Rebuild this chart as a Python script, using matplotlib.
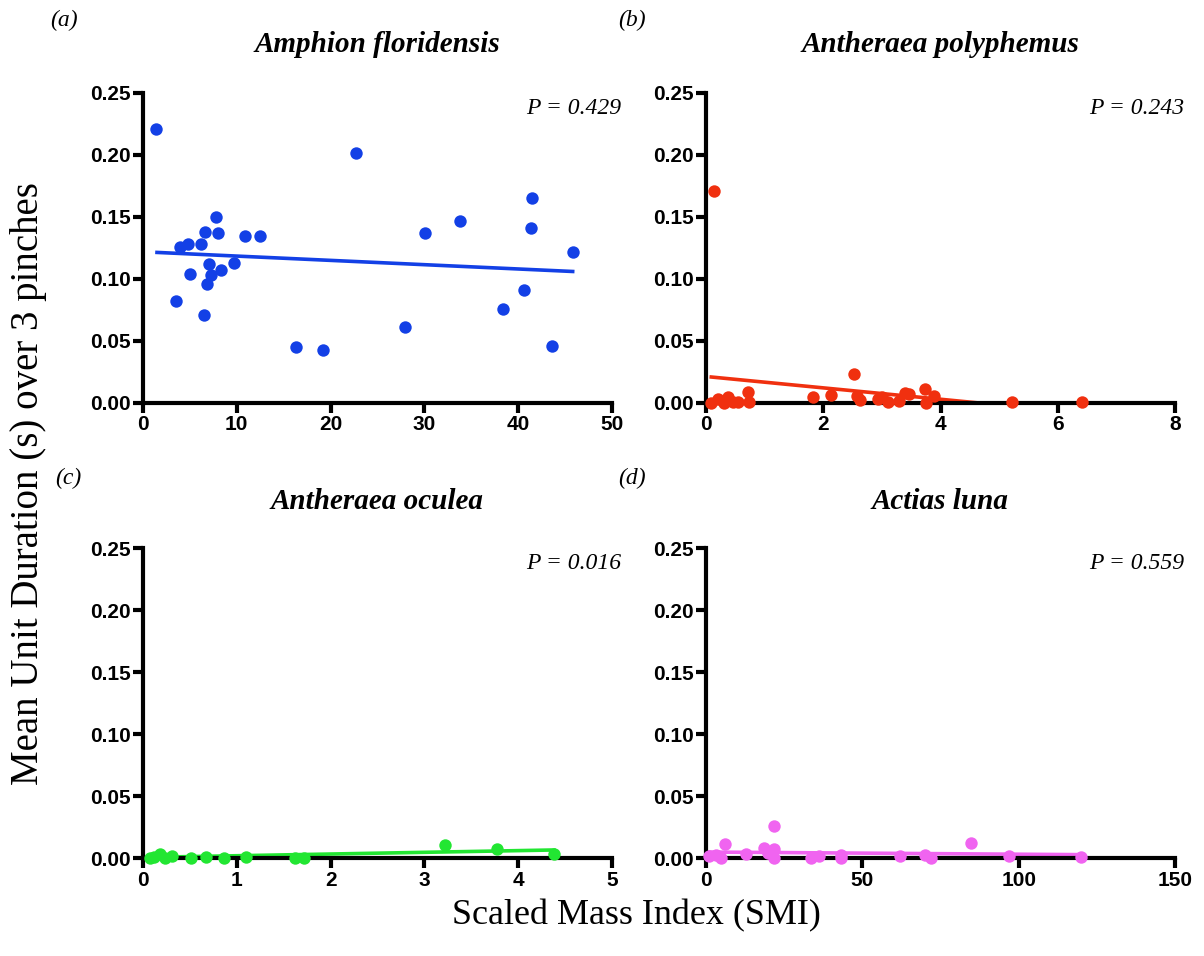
import matplotlib
matplotlib.use("Agg")
import matplotlib.pyplot as plt
import numpy as np

# ---------------- data ----------------
titles = ["Amphion floridensis", "Antheraea polyphemus", "Antheraea oculea", "Actias luna"]
panel_labels = ["(a)", "(b)", "(c)", "(d)"]
p_values = ["P = 0.429", "P = 0.243", "P = 0.016", "P = 0.559"]
colors = ["#1340e6", "#f0300f", "#22e632", "#f064f0"]

a_x = [1.4, 22.75, 41.5, 41.4, 33.8, 30.1, 45.8, 40.6, 38.4, 43.6, 27.9, 16.3, 19.2,
       7.75, 6.6, 8.0, 10.9, 12.5, 6.2, 4.8, 3.9, 7.0, 8.3, 9.7, 5.0, 7.25, 6.8, 3.5, 6.55]
a_y = [0.221, 0.202, 0.165, 0.141, 0.147, 0.137, 0.122, 0.091, 0.076, 0.046, 0.061, 0.045, 0.043,
       0.150, 0.138, 0.137, 0.135, 0.135, 0.128, 0.128, 0.126, 0.112, 0.107, 0.113, 0.104, 0.103, 0.096, 0.082, 0.071]
a_fit_x = [1.3, 46.0]
a_fit_y = [0.1215, 0.1060]

b_x = [0.13, 2.53, 1.83, 2.14, 2.63, 2.94, 3.1, 3.3, 3.39, 3.47, 3.73, 3.89, 3.76, 5.22, 6.42,
       0.71, 0.74, 0.09, 0.2, 0.37, 0.31, 0.46, 0.54, 2.58, 3.0]
b_y = [0.171, 0.0235, 0.0046, 0.0062, 0.0027, 0.003, 0.001, 0.002, 0.008, 0.007, 0.011, 0.006, 0.0, 0.0005, 0.0008,
       0.009, 0.001, 0.0, 0.003, 0.005, 0.0, 0.001, 0.0005, 0.006, 0.0045]
b_fit_x = [0.06, 4.66]
b_fit_y = [0.0211, 0.0]

c_x = [3.22, 3.77, 4.38, 0.07, 0.12, 0.18, 0.23, 0.31, 0.51, 0.67, 0.86, 1.1, 1.62, 1.72]
c_y = [0.0108, 0.0075, 0.0035, 0.0, 0.001, 0.0035, 0.0, 0.002, 0.0, 0.001, 0.0, 0.001, 0.0, 0.0]
c_fit_x = [0.03, 4.4]
c_fit_y = [0.0005, 0.0065]

d_x = [21.8, 84.9, 6.1, 18.6, 21.8, 12.8, 1.1, 3.2, 4.8, 19.7, 21.8, 33.5, 36.2, 43.3, 43.3,
       61.9, 70.2, 72.1, 96.8, 120.0]
d_y = [0.026, 0.012, 0.0113, 0.008, 0.0075, 0.003, 0.0013, 0.0027, 0.0, 0.004, 0.0, 0.0, 0.0013, 0.0027, 0.0,
       0.002, 0.0027, 0.0, 0.0013, 0.0005]
d_fit_x = [0.0, 120.0]
d_fit_y = [0.0048, 0.0027]

xlims = [50, 8, 5, 150]
xticks = [[0, 10, 20, 30, 40, 50], [0, 2, 4, 6, 8], [0, 1, 2, 3, 4, 5], [0, 50, 100, 150]]
yticks = [0.00, 0.05, 0.10, 0.15, 0.20, 0.25]
ytick_labels = ["0.00", "0.05", "0.10", "0.15", "0.20", "0.25"]
ylabel = "Mean Unit Duration (s) over 3 pinches"
xlabel = "Scaled Mass Index (SMI)"

xs = [a_x, b_x, c_x, d_x]
ys = [a_y, b_y, c_y, d_y]
fxs = [a_fit_x, b_fit_x, c_fit_x, d_fit_x]
fys = [a_fit_y, b_fit_y, c_fit_y, d_fit_y]

# ---------------- figure ----------------
W, H = 1204, 956
fig = plt.figure(figsize=(W / 100, H / 100), dpi=100)
serif = "Liberation Serif"
sans = "Liberation Sans"

# axes boxes in pixel coords (left, top, right, bottom)
boxes = [(143, 93, 612, 403), (706, 93, 1175, 403), (143, 548, 612, 858), (706, 548, 1175, 858)]
label_pos = [(50, 20), (618, 20), (55, 478), (618, 478)]
title_y = [45, 45, 502, 502]

for i in range(4):
    l, t, r, b = boxes[i]
    ax = fig.add_axes([l / W, 1 - b / H, (r - l) / W, (b - t) / H])
    ax.scatter(xs[i], ys[i], s=80, color=colors[i], zorder=3, clip_on=False, linewidths=0)
    ax.plot(fxs[i], fys[i], color=colors[i], lw=2.6, zorder=2, solid_capstyle="butt", clip_on=False)
    ax.set_xlim(0, xlims[i])
    ax.set_ylim(0, 0.25)
    ax.set_xticks(xticks[i])
    ax.set_xticklabels([str(v) for v in xticks[i]])
    ax.set_yticks(yticks)
    ax.set_yticklabels(ytick_labels)
    for s in ["top", "right"]:
        ax.spines[s].set_visible(False)
    for s in ["left", "bottom"]:
        ax.spines[s].set_linewidth(3)
        ax.spines[s].set_capstyle("projecting")
    ax.tick_params(axis="both", direction="out", length=7, width=3, pad=2,
                   labelsize=15)
    for lab in ax.get_xticklabels() + ax.get_yticklabels():
        lab.set_fontfamily(sans)
        lab.set_fontweight("bold")
    ax.text(1.02, 0.985, p_values[i], transform=ax.transAxes, ha="right", va="top",
            fontsize=17, family=serif, style="italic")
    cx = (l + r) / 2
    fig.text(cx / W, 1 - title_y[i] / H, titles[i], ha="center", va="center",
             fontsize=21, family=serif, style="italic", weight="bold")
    fig.text(label_pos[i][0] / W, 1 - label_pos[i][1] / H, panel_labels[i], ha="left", va="center",
             fontsize=17, family=serif, style="italic")

fig.text(29 / W, 1 - 484 / H, ylabel, rotation=90, ha="center", va="center",
         fontsize=28, family=serif)
fig.text(636 / W, 1 - 916 / H, xlabel, ha="center", va="center",
         fontsize=26, family=serif)

fig.savefig("out.png", dpi=100, facecolor="white")
